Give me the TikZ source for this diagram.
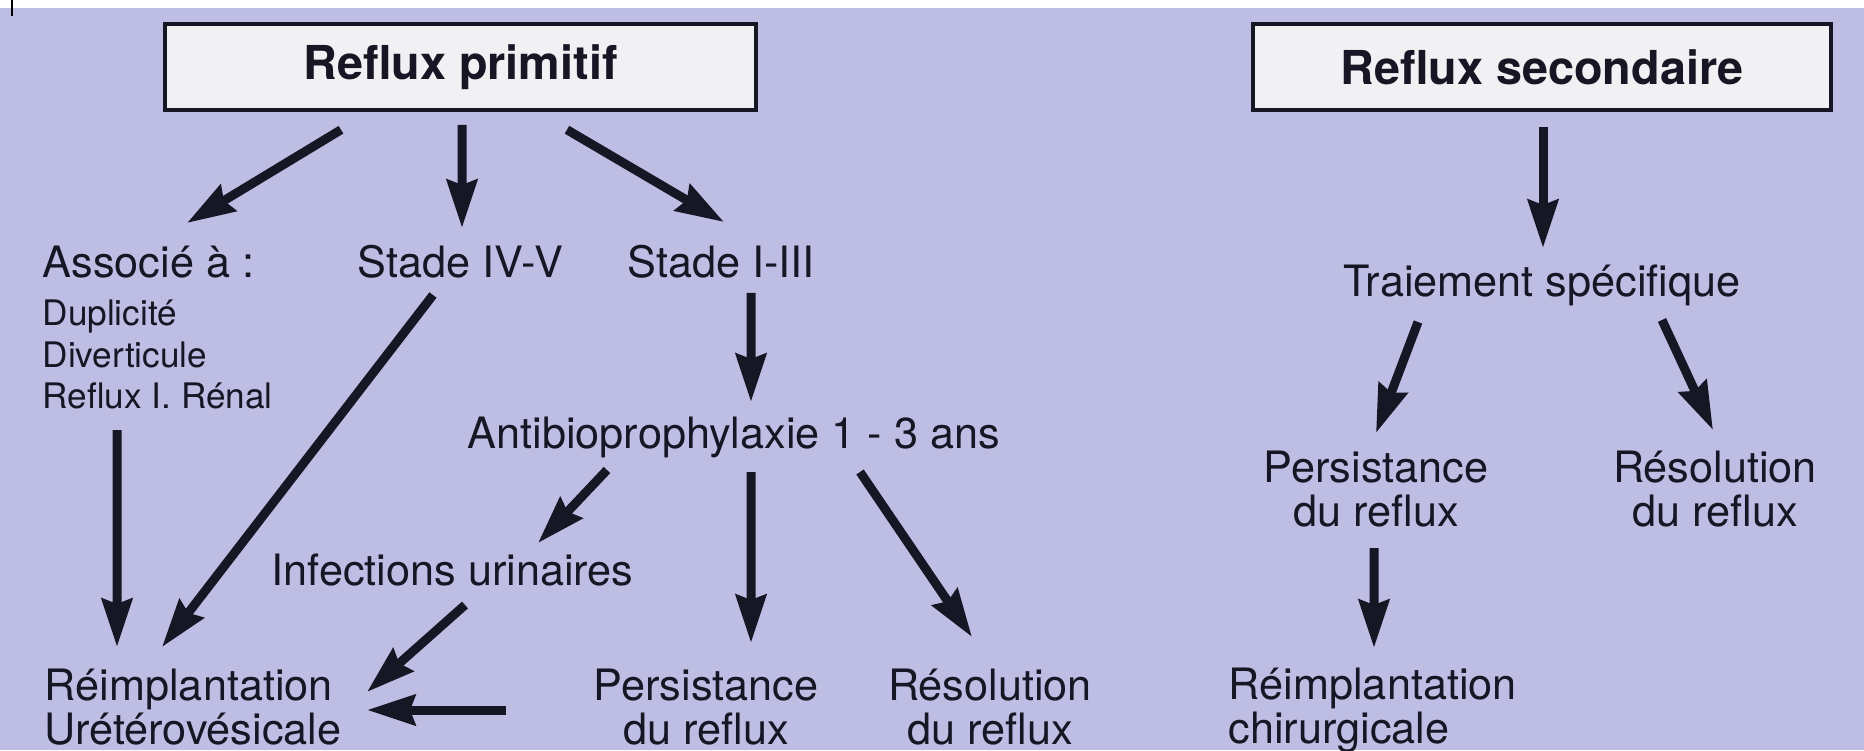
\documentclass[tikz,border=0pt]{standalone}
\usepackage{fontspec}
\setmainfont{TeX Gyre Heros}
\usetikzlibrary{arrows.meta}

\definecolor{bgviolet}{RGB}{190,189,228}
\definecolor{boxfill}{RGB}{241,241,243}
\definecolor{ink}{RGB}{22,22,36}

\tikzset{
  titlebox/.style={draw=ink, line width=1pt, fill=boxfill, minimum height=0.86cm,
    inner sep=0pt, text=ink, font=\fontsize{13.3}{14}\selectfont\bfseries},
  lbl/.style={inner sep=0pt, text=ink, font=\fontsize{12.3}{12.5}\selectfont},
  sml/.style={inner sep=0pt, text=ink, font=\fontsize{10}{11}\selectfont},
  arr/.style={draw=ink, line width=0.09cm,
    -{Stealth[length=4.8mm,width=3mm,inset=0.5mm]}}
}

\begin{document}
\begin{tikzpicture}
    % Page and background
    \useasboundingbox (0,0) rectangle (18.64,7.5);
    \fill[bgviolet] (0,0) rectangle (18.64,7.5);
    \fill[white] (0,7.42) rectangle (18.64,7.5);
    \draw[line width=0.6pt] (0.12,7.5) -- (0.12,7.34);

    % Left tree: Reflux primitif
    \node[titlebox, minimum width=5.91cm] (prim) at (4.605,6.83) {Reflux primitif};

    \node[lbl, anchor=base west] (assoc) at (0.42,4.72) {Associé à :};
    \node[sml, anchor=base west] (dup) at (0.42,4.24) {Duplicité};
    \node[sml, anchor=base west] (div) at (0.42,3.83) {Diverticule};
    \node[sml, anchor=base west] (renal) at (0.42,3.42) {Reflux I. Rénal};

    \node[lbl, anchor=base west] (stIV) at (3.57,4.72) {Stade IV-V};
    \node[lbl, anchor=base west] (stI) at (6.27,4.72) {Stade I-III};
    \node[lbl, anchor=base west] (anti) at (4.67,3.02) {Antibioprophylaxie 1 - 3 ans};
    \node[lbl, anchor=base west] (infect) at (2.71,1.65) {Infections urinaires};

    \node[lbl, align=left, anchor=base west] (reimp) at (0.44,0.06) {Réimplantation\\Urétérovésicale};
    \node[lbl, align=center, anchor=base] (persA) at (7.06,0.06) {Persistance\\du reflux};
    \node[lbl, align=center, anchor=base] (resA) at (9.90,0.06) {Résolution\\du reflux};

    % Right tree: Reflux secondaire
    \node[titlebox, minimum width=5.78cm] (sec) at (15.42,6.83) {Reflux secondaire};
    \node[lbl, anchor=base] (trait) at (15.42,4.53) {Traiement spécifique};
    \node[lbl, align=center, anchor=base] (persB) at (13.76,2.24) {Persistance\\du reflux};
    \node[lbl, align=center, anchor=base] (resB) at (17.15,2.24) {Résolution\\du reflux};
    \node[lbl, align=left, anchor=base west] (chir) at (12.28,0.07) {Réimplantation\\chirurgicale};

    % Arrows, left
    \draw[arr] ([xshift=-1.195cm,yshift=-0.18cm]prim.south) -- ([xshift=1.45cm,yshift=0.55cm]assoc.base west);
    \draw[arr] ([xshift=0.015cm,yshift=-0.13cm]prim.south) -- ([xshift=1.05cm,yshift=0.5cm]stIV.base west);
    \draw[arr] ([xshift=1.065cm,yshift=-0.18cm]prim.south) -- ([xshift=0.97cm,yshift=0.56cm]stI.base west);
    \draw[arr] ([xshift=0.76cm,yshift=-0.17cm]stIV.base west) -- ([xshift=1.18cm,yshift=0.97cm]reimp.base west);
    \draw[arr] ([xshift=0.75cm,yshift=-0.22cm]renal.base west) -- ([xshift=0.73cm,yshift=0.97cm]reimp.base west);
    \draw[arr] ([xshift=1.24cm,yshift=-0.15cm]stI.base west) -- ([xshift=2.84cm,yshift=0.46cm]anti.base west);
    \draw[arr] ([xshift=1.4cm,yshift=-0.22cm]anti.base west) -- ([xshift=2.67cm,yshift=0.42cm]infect.base west);
    \draw[arr] ([xshift=2.84cm,yshift=-0.24cm]anti.base west) -- ([xshift=0.45cm,yshift=1.01cm]persA.base);
    \draw[arr] ([xshift=3.93cm,yshift=-0.24cm]anti.base west) -- ([xshift=-0.18cm,yshift=1.07cm]resA.base);
    \draw[arr] ([xshift=1.94cm,yshift=-0.2cm]infect.base west) -- ([xshift=3.23cm,yshift=0.52cm]reimp.base west);
    \draw[arr] ([xshift=-2cm,yshift=0.34cm]persA.base) -- ([xshift=3.23cm,yshift=0.34cm]reimp.base west);

    % Arrows, right
    \draw[arr] ([xshift=0.01cm,yshift=-0.15cm]sec.south) -- ([xshift=0.01cm,yshift=0.49cm]trait.base);
    \draw[arr] ([xshift=-1.24cm,yshift=-0.25cm]trait.base) -- ([yshift=0.93cm]persB.base);
    \draw[arr] ([xshift=1.2cm,yshift=-0.23cm]trait.base) -- ([xshift=-0.02cm,yshift=0.96cm]resB.base);
    \draw[arr] ([xshift=-0.02cm,yshift=-0.22cm]persB.base) -- ([xshift=1.46cm,yshift=0.95cm]chir.base west);
\end{tikzpicture}
\end{document}
